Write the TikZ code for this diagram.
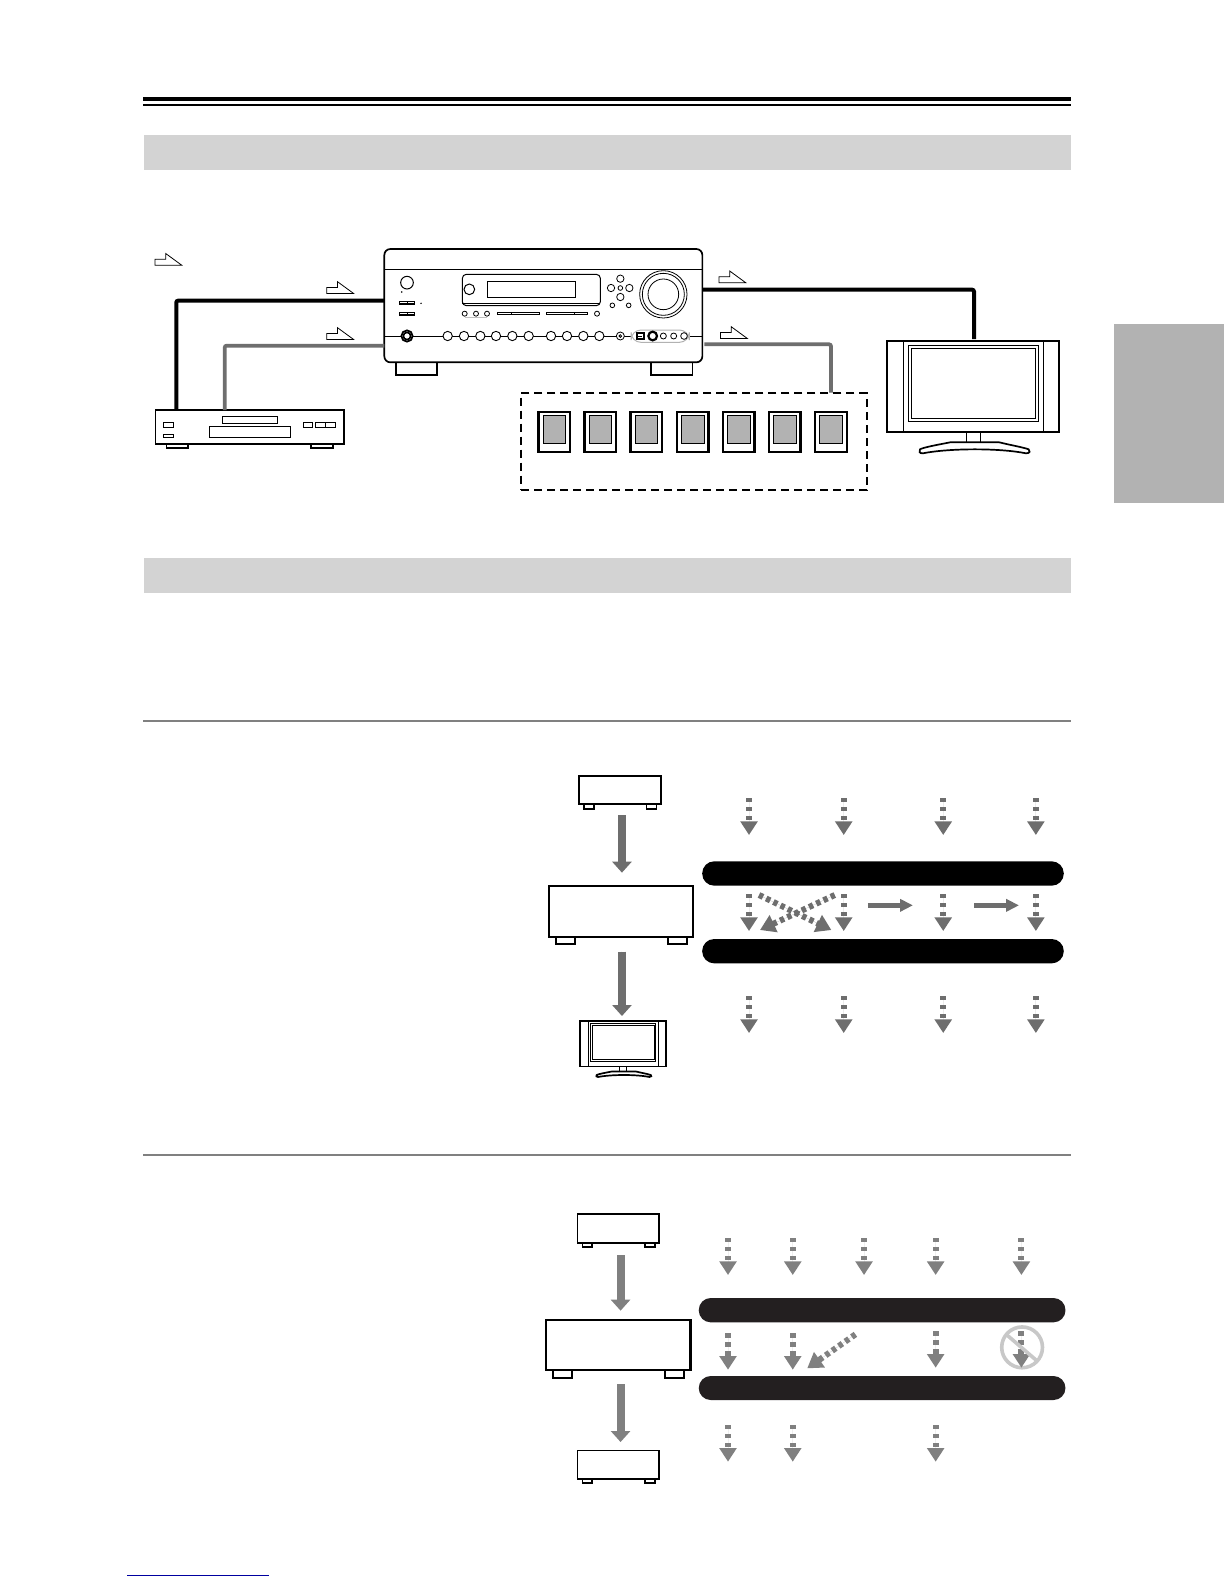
\documentclass[tikz,border=0pt]{standalone}
\usetikzlibrary{arrows.meta,fit}
\definecolor{bandgray}{HTML}{D3D3D3}
\definecolor{tabgray}{HTML}{B2B2B2}
\definecolor{arrowA}{HTML}{6E6E6E}
\definecolor{arrowB}{HTML}{808080}
\definecolor{barB}{HTML}{231F20}
\definecolor{ringgray}{HTML}{C8C8C8}
\definecolor{linkblue}{HTML}{0000A0}
\tikzset{
  thinline/.style={line width=0.5pt,draw=black},
  medline/.style={line width=0.85pt,draw=black},
  heavyline/.style={line width=1.1pt,draw=black},
  spkline/.style={line width=1.1pt,draw=black},
  whitefill/.style={fill=white},
  cableblack/.style={line width=2pt,draw=black,rounded corners=1pt},
  cablegray/.style={line width=1.9pt,draw=arrowA,rounded corners=1pt},
  noteflag/.style={line width=0.4pt,draw=black,fill=white},
  bigarrow/.style={line width=4pt,-{Triangle[length=5.5pt,width=9.5pt]}},
  flatarrow/.style={line width=2.8pt,-{Triangle[length=6.4pt,width=6pt]}},
  dasharrow/.style={line width=3pt,dash pattern=on 2.1pt off 2.4pt,-{Triangle[length=6.8pt,width=8.3pt]}},
  diagarrow/.style={line width=3pt,dash pattern=on 2.2pt off 1.8pt,-{Triangle[length=7.5pt,width=9pt]}},
  pill/.style={rounded corners=6pt}
}
\newcommand\fitbox[6]{%
  \path (#3,#4) coordinate (#1-a) (#5,#6) coordinate (#1-b);
  \node[fit=(#1-a)(#1-b),inner sep=0pt,#2] (#1) {};}
\newcommand\noteshape[3]{%
  \draw[noteflag] (#2,#3) ++(0,11.7) coordinate (#1) -- ++(26.7,0) -- ++(-16,-11.7) -- ++(0,5.7) -- ++(-10.7,0) -- cycle;}
\newcommand\tvbody[7]{%
  \begin{scope}[shift={(#2)},x=#3,y=#4]
    \draw[#6,whitefill] (288,517) rectangle (332,547);
    \draw[#5,whitefill] (288,547) -- (240,547) .. controls (200,555) and (160,562) .. (150,568)
       .. controls (146,574) and (148,580) .. (158,580)
       .. controls (240,564) and (390,564) .. (468,580)
       .. controls (480,580) and (482,572) .. (476,568)
       .. controls (460,562) and (420,555) .. (388,547) -- cycle;
    \fitbox{#1}{#5,whitefill}{52}{242}{566}{517}
    \draw[#6] (101,242) -- (101,517) (520,242) -- (520,517);
    \draw[#7] (115,256) rectangle (506,485);
    \draw[#7] (124,265) rectangle (497,476);
  \end{scope}}
\newcommand\smalldev[4]{%
  \draw[medline,whitefill] (#3+14,#4+85) rectangle (#3+42,#4+98);
  \draw[medline,whitefill] (#3+195,#4+85) rectangle (#3+224,#4+98);
  \fitbox{#2}{medline,whitefill}{#3}{#4}{#3+237}{#4+85}}
\newcommand\meddev[3]{%
  \draw[heavyline,whitefill] (#2+21,#3+152) rectangle (#2+76,#3+175);
  \draw[heavyline,whitefill] (#2+346,#3+152) rectangle (#2+401,#3+175);
  \fitbox{#1}{heavyline,whitefill}{#2}{#3}{#2+420}{#3+152}}
\begin{document}
\begin{tikzpicture}[x=0.5pt,y=-0.5pt]
\useasboundingbox (0,0) rectangle (1224,1584);
\fill[white] (0,0) rectangle (1224,1584);
% page furniture
\fill[black] (143,97) rectangle (1071,101.2);
\fill[black] (143,104.3) rectangle (1071,105.7);
\fill[bandgray] (144,135) rectangle (1071,170);
\fill[bandgray] (144,557.7) rectangle (1071,592.7);
\fill[arrowB] (143,720) rectangle (1071,722);
\fill[arrowB] (143,1154) rectangle (1071,1156);
\fill[tabgray] (1114,324) rectangle (1224,503);
\fill[linkblue] (127,1574.5) rectangle (268.7,1575.7);
% flags
\noteshape{flagA}{155}{253.5}
\noteshape{flagB}{326.8}{281.7}
\noteshape{flagC}{326.8}{327.7}
\noteshape{flagD}{719}{271}
\noteshape{flagE}{720.5}{326.7}
% receiver
\begin{scope}[shift={(370,240)},x=0.16667pt,y=-0.16667pt]
  \draw[medline,whitefill] (79,360) rectangle (202,405);
  \draw[medline,whitefill] (843,360) rectangle (967,405);
  \path (43,27) coordinate (rA) (997,367) coordinate (rB);
  \node[fit=(rA)(rB),inner sep=0pt,medline,whitefill,rounded corners=3pt] (receiver) {};
  \draw[thinline] (43,88) -- (997,88);
  \draw[line width=0.55pt] (43,289) -- (997,289);
  \draw[thinline,whitefill] (111,128) circle (19);
  \fill (95,156) circle (2.5) (153,190) circle (2.5);
  \foreach \yy in {184,216} {
    \fill (88,\yy) rectangle (135,\yy+11);
    \fill[white] (91,\yy+2) rectangle (110,\yy+6);
    \fill[white] (113,\yy+2) rectangle (132,\yy+6);
  }
  \draw[thinline,rounded corners=2pt] (277,103) rectangle (691,197);
  \draw[thinline] (277,189) -- (691,189);
  \draw[thinline] (298,148) circle (16);
  \draw[thinline] (352,124) rectangle (616,172);
  \foreach \xx in {284,318,351,681} \draw[line width=0.4pt] (\xx,221) circle (7.5);
  \draw[line width=0.4pt,draw=black!25] (284,233) -- (351,233);
  \foreach \xa/\xb/\xc/\xd in {382/425/468/511,527/570/613/655} {
    \fill (\xa,216) rectangle (\xd,226);
    \fill[white] (\xa+3,218) rectangle (\xb-1,221.5);
    \fill[white] (\xb+1,218) rectangle (\xc-1,221.5);
    \fill[white] (\xc+1,218) rectangle (\xd-3,221.5);
  }
  \foreach \xx/\yy/\rr in {751/116/11,723/144/11,751/144/7,778/144/11,751/171/11,727/196/7,776/196/7}
    \draw[line width=0.4pt] (\xx,\yy) circle (\rr);
  \draw[line width=0.4pt] (880,163) circle (71) (880,163) circle (63) (880,163) circle (46);
  \draw[medline,whitefill] (111,288) circle (17);
  \draw[medline] (111,288) circle (11);
  \foreach \xx in {233,282,331,378,427,476,543,591,640,688} \draw[line width=0.45pt,draw=black,whitefill] (\xx,288) circle (14);
  \draw[line width=0.4pt,draw=black,whitefill] (751,288) circle (12);
  \draw[line width=0.4pt] (751,288) circle (4);
  \draw[line width=0.5pt,draw=black!30,whitefill,rounded corners=5pt] (783,270) rectangle (958,307);
  \draw[line width=1pt] (801,278) rectangle (821,298);
  \draw[line width=0.4pt] (805,288) -- (817,288);
  \draw[heavyline,whitefill] (848,288) circle (13);
  \draw[line width=0.4pt] (880,288) circle (9) (911,288) circle (9) (942,288) circle (10);
  \coordinate (recvBlackL) at (43,182);
  \coordinate (recvGrayL) at (43,317);
  \coordinate (recvBlackR) at (997,149);
  \coordinate (recvGrayR) at (1003,313);
\end{scope}
% CD player, speakers
\begin{scope}[shift={(140,230)},x=0.18498pt,y=-0.16667pt]
  \draw[medline,whitefill] (72,642) rectangle (130,655);
  \draw[medline,whitefill] (462,642) rectangle (522,655);
  \fitbox{player}{medline,whitefill}{42}{540}{552}{642}
  \draw[thinline] (222,560) rectangle (372,581);
  \draw[thinline] (187,589) rectangle (407,623);
  \draw[thinline] (63,577) rectangle (91,593);
  \draw[thinline] (63,613) rectangle (91,623);
  \draw[thinline] (442,577) rectangle (467,593);
  \draw[thinline] (474,577) rectangle (501,593) (501,577) rectangle (528,593);
  \coordinate (playerBlack) at (98,540);
  \coordinate (playerGray) at (229,540);
  \path (1030,489) coordinate (dA);
  \foreach \n in {0,...,6} {
    \pgfmathsetmacro\xs{1077+124.5*\n}
    \fitbox{spk\n}{spkline,whitefill}{\xs}{545}{\xs+86}{667}
    \draw[thinline,fill=tabgray] (\xs+13,556) rectangle (\xs+74,640);
  }
\end{scope}
\coordinate (dB) at (866.7,490);
\node[fit=(dA)(dB),inner sep=0pt,draw=black,line width=1pt,dash pattern=on 4pt off 2.5pt] (spkgroup) {};
% TV
\tvbody{tv}{870,260}{0.16667pt}{-0.16667pt}{medline}{thinline}{thinline}
% cables
\coordinate (tvTop) at (974,339);
\coordinate (spkTop) at (831,392.7);
\draw[cableblack] (recvBlackL) -| (playerBlack);
\draw[cablegray] (recvGrayL) -| (playerGray);
\draw[cableblack] (recvBlackR) -| (tvTop);
\draw[cablegray] (recvGrayR) -| (spkTop);
% section 1
\begin{scope}[shift={(530,760)},x=0.17218pt,y=-0.16667pt]
  \smalldev{1}{srcA}{143}{48}
  \meddev{ampA}{54}{378}
  \coordinate (sA1) at (267,165); \coordinate (eA1) at (267,338);
  \coordinate (sA2) at (267,575); \coordinate (eA2) at (267,768);
  \draw[bigarrow,draw=arrowA,fill=arrowA] (sA1) -- (eA1);
  \draw[bigarrow,draw=arrowA,fill=arrowA] (sA2) -- (eA2);
  \fitbox{barA1}{fill=black,pill}{500}{304}{1550}{377}
  \fitbox{barA2}{fill=black,pill}{500}{537}{1550}{610}
  \foreach \xx in {636,911,1200,1469} \foreach \yy/\nm in {0/a,288/b,594/c} {
    \coordinate (ds\xx\nm) at (\xx,114+\yy);
    \coordinate (de\xx\nm) at (\xx,225+\yy);
    \draw[dasharrow,draw=arrowA,fill=arrowA] (ds\xx\nm) -- (de\xx\nm);
  }
  \coordinate (cxA) at (885,405); \coordinate (cxB) at (668,510);
  \coordinate (cxC) at (665,405); \coordinate (cxD) at (875,510);
  \draw[diagarrow,draw=arrowA,fill=arrowA] (cxA) -- (cxB);
  \draw[diagarrow,draw=arrowA,fill=arrowA] (cxC) -- (cxD);
  \coordinate (hA) at (981,436); \coordinate (hB) at (1112,436);
  \coordinate (hC) at (1290,436); \coordinate (hD) at (1420,436);
  \draw[flatarrow,draw=arrowA,fill=arrowA] (hA) -- (hB);
  \draw[flatarrow,draw=arrowA,fill=arrowA] (hC) -- (hD);
\end{scope}
\tvbody{tvsmall}{571.7,981.4}{0.08307pt}{-0.0824pt}{medline}{thinline}{thinline}
% section 2
\begin{scope}[shift={(530,1200)},x=0.17218pt,y=-0.16667pt]
  \smalldev{1}{srcB}{138}{43}
  \meddev{ampB}{46}{359}
  \smalldev{1}{dstB}{138}{751}
  \coordinate (sB1) at (263,165); \coordinate (eB1) at (263,332);
  \coordinate (sB2) at (263,552); \coordinate (eB2) at (263,726);
  \draw[bigarrow,draw=arrowB,fill=arrowB] (sB1) -- (eB1);
  \draw[bigarrow,draw=arrowB,fill=arrowB] (sB2) -- (eB2);
  \fitbox{barB1}{fill=barB,pill}{490}{294}{1555}{367}
  \fitbox{barB2}{fill=barB,pill}{490}{528}{1555}{600}
  \foreach \xx in {575,763,970,1178,1427} {
    \coordinate (fs\xx) at (\xx,114); \coordinate (fe\xx) at (\xx,225);
    \draw[dasharrow,draw=arrowB,fill=arrowB] (fs\xx) -- (fe\xx);
  }
  \foreach \xx/\ya/\yb in {575/400/509,763/400/509,1178/394/503} {
    \coordinate (gs\xx) at (\xx,\ya); \coordinate (ge\xx) at (\xx,\yb);
    \draw[dasharrow,draw=arrowB,fill=arrowB] (gs\xx) -- (ge\xx);
  }
  \foreach \xx in {575,763,1178} {
    \coordinate (ks\xx) at (\xx,675); \coordinate (ke\xx) at (\xx,785);
    \draw[dasharrow,draw=arrowB,fill=arrowB] (ks\xx) -- (ke\xx);
  }
  \coordinate (dgA) at (945,403); \coordinate (dgB) at (805,505);
  \draw[diagarrow,draw=arrowB,fill=arrowB] (dgA) -- (dgB);
  \coordinate (ringC) at (1429,442);
  \draw[ringgray,line width=1.8pt] (ringC) circle[radius=10.2pt];
  \coordinate (gs1427) at (1427,394); \coordinate (ge1427) at (1427,503);
  \draw[dasharrow,draw=arrowB,fill=arrowB] (gs1427) -- (ge1427);
  \draw[ringgray,line width=1.8pt] (1385,405) -- (1475,485);
\end{scope}
\end{tikzpicture}
\end{document}
